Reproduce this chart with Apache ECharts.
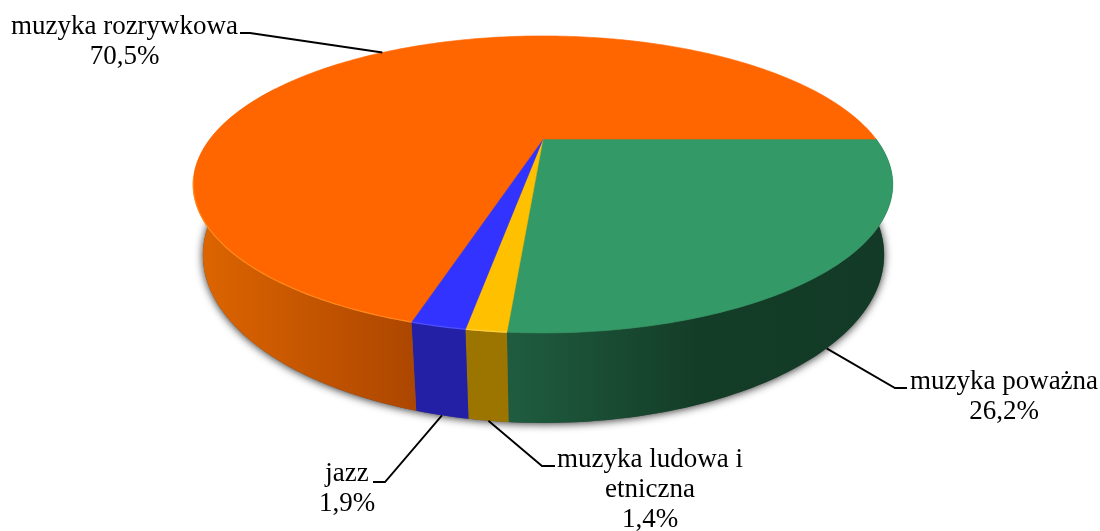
<!DOCTYPE html>
<html>
<head>
<meta charset="utf-8">
<script src="https://cdn.jsdelivr.net/npm/echarts@6/dist/echarts.min.js"></script>
<style>html,body{margin:0;padding:0;background:#fff}#c{width:1100px;height:531px}</style>
</head>
<body>
<div id="c"></div>
<script>
// Data, clockwise from the 3 o'clock position
const categories = ['muzyka poważna', 'muzyka ludowa i\netniczna', 'jazz', 'muzyka rozrywkowa'];
const shares = [26.2, 1.4, 1.9, 70.5];

// Styles, same order
const topColors = ['#339966', '#FFC000', '#3333FF', '#FF6600'];
const rimColors = ['#339966', '#FFD040', '#5050FF', '#FF8A1E'];
const wallStops = [
  [[0, '#123A26'], [0.5, '#143D28'], [1, '#1F5C3F']],
  [[0, '#9C7500'], [1, '#9C7500']],
  [[0, '#2420A6'], [1, '#2420A6']],
  [[0, '#DC6400'], [1, '#AC4600']]
];
const wallGradientX = [[885, 509], [468, 509], [416, 468], [205, 416]];

// Projection of the pie disc (top face and bottom rim)
const CX = 543;
const topRim = { ax: CX, ay: 139, sx: 333, sy: 134.6, p: 0.306 };
const botRim = { ax: CX + 0.5, ay: 204.7, sx: 325, sy: 152.9, p: 0.2993 };
function project(rim, deg) {
  const t = deg * Math.PI / 180, c = Math.cos(t), s = Math.sin(t), w = 1 - rim.p * s;
  return [rim.ax + rim.sx * c / w, rim.ay + rim.sy * s / w];
}
function arc(rim, a, b) {
  const pts = [], n = Math.max(2, Math.ceil(Math.abs(b - a)));
  for (let i = 0; i <= n; i++) pts.push(project(rim, a + (b - a) * i / n));
  return pts;
}
function range(i) {
  let acc = 0;
  for (let k = 0; k < i; k++) acc += shares[k];
  return [acc * 3.6, (acc + shares[i]) * 3.6];
}

// Leader lines and label placement
const leaderRim = [botRim, botRim, botRim, topRim];
const leaderElbow = [[[895, 388], [907, 388]], [[542, 466], [555, 466]], [[385, 482], [373, 482]], [[250, 33], [240, 33]]];
const labelAnchor = [[1004, 396.5], [650, 490], [347, 489], [124.5, 42]];
const fmt = v => v.toFixed(1).replace('.', ',') + '%';

const rows = shares.map((v, i) => ({ name: categories[i].replace('\n', ' '), value: [v] }));

const walls = {
  type: 'custom', coordinateSystem: 'none', silent: true, z: 1, data: rows,
  renderItem(params) {
    const i = params.dataIndex, [a, b] = range(i);
    const e = Math.min(b, 205);
    const children = [];
    if (i === 0) {
      children.push({
        type: 'polygon', shape: { points: arc(botRim, 0, 360) },
        style: { fill: '#555', shadowBlur: 8, shadowColor: 'rgba(0,0,0,0.8)', shadowOffsetY: 1 }
      });
    }
    const g = wallGradientX[i];
    children.push({
      type: 'polygon',
      shape: { points: arc(topRim, a, e).concat(arc(botRim, a, e).reverse()) },
      style: {
        fill: new echarts.graphic.LinearGradient(g[0], 0, g[1], 0,
          wallStops[i].map(s => ({ offset: s[0], color: s[1] })), true),
        stroke: null
      }
    });
    return { type: 'group', children };
  }
};

const tops = {
  type: 'custom', coordinateSystem: 'none', silent: true, z: 2, data: rows,
  renderItem(params) {
    const i = params.dataIndex, [a, b] = range(i);
    const children = [{
      type: 'polygon',
      shape: { points: [[topRim.ax, topRim.ay]].concat(arc(topRim, a, b)) },
      style: { fill: topColors[i], stroke: topColors[i], lineWidth: 0.6 }
    }];
    const e = Math.min(b, 165);
    if (i > 0) {
      children.push({
        type: 'polyline', shape: { points: arc(topRim, a, e) },
        style: { fill: null, stroke: rimColors[i], lineWidth: 1.2 }
      });
    }
    return { type: 'group', children };
  }
};

const labels = {
  type: 'custom', coordinateSystem: 'none', silent: true, z: 3, data: rows,
  renderItem(params) {
    const i = params.dataIndex, [a, b] = range(i);
    const start = project(leaderRim[i], (a + b) / 2);
    const pos = labelAnchor[i];
    return {
      type: 'group',
      children: [{
        type: 'polyline',
        shape: { points: [start].concat(leaderElbow[i]) },
        style: { fill: null, stroke: '#000', lineWidth: 1.9 }
      }, {
        type: 'text',
        style: {
          text: categories[i] + '\n' + fmt(shares[i]),
          x: pos[0], y: pos[1],
          align: 'center', verticalAlign: 'middle',
          fontFamily: '"Liberation Serif"', fontSize: 27, lineHeight: 30,
          fill: '#000'
        }
      }]
    };
  }
};

const chart = echarts.init(document.getElementById('c'), null, { renderer: 'canvas' });
chart.setOption({ animation: false, backgroundColor: '#fff', series: [walls, tops, labels] });
</script>
</body>
</html>
